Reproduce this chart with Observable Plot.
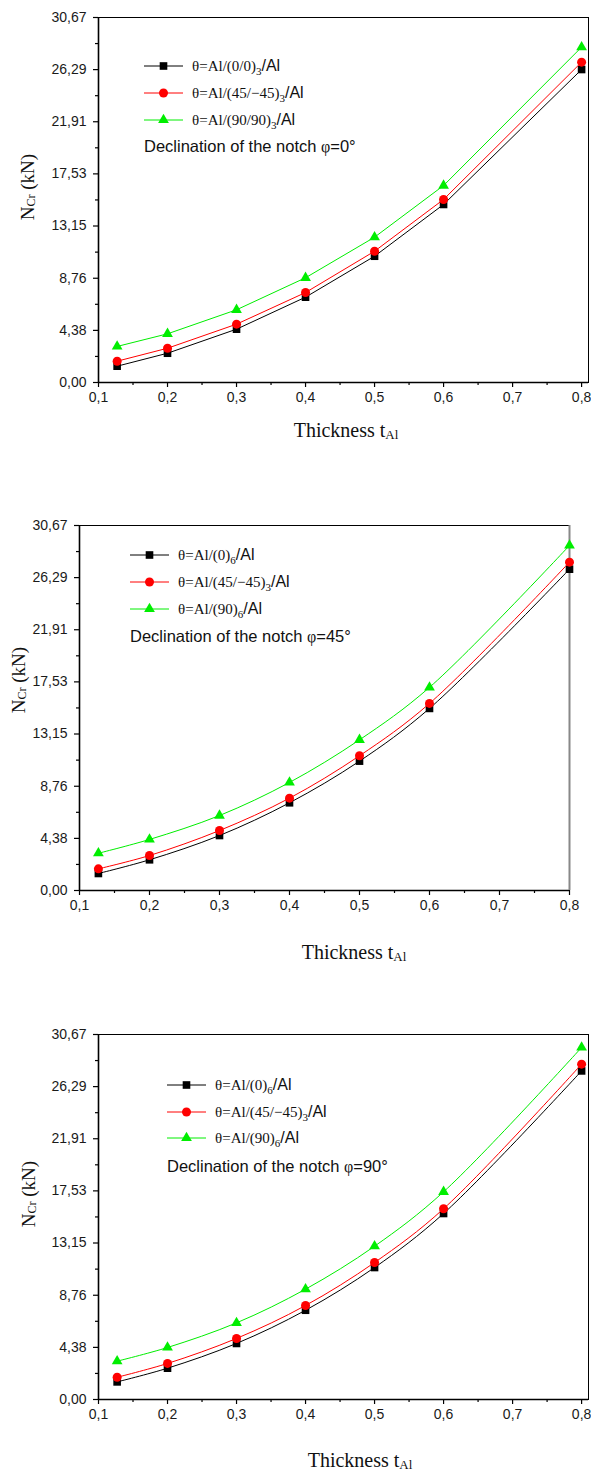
<!DOCTYPE html>
<html>
<head>
<meta charset="utf-8">
<script src="https://cdn.jsdelivr.net/npm/d3@7"></script>
<script src="https://cdn.jsdelivr.net/npm/@observablehq/plot@0.6"></script>
<style>
  body { margin: 0; background: #fff; }
  #wrap { position: relative; width: 591px; height: 1470px; overflow: hidden; background: #fff; }
  .plotbox { position: absolute; left: 0; }
  .ylab { position: absolute; font-family: "Liberation Serif", serif; font-size: 19px; white-space: nowrap;
          transform: translate(-50%, -50%) rotate(-90deg); color: #111; line-height: 1; }
  .ylab sub { font-size: 12px; vertical-align: -1px; }
  .xlab { position: absolute; font-family: "Liberation Serif", serif; font-size: 20px; white-space: nowrap;
          transform: translate(-50%, -50%); color: #111; line-height: 1; }
  .xlab span { font-size: 13px; vertical-align: -2px; }
  .legrow { position: absolute; white-space: nowrap; transform: translateY(-50%); display: flex; align-items: center; color: #111; }
  .legrow svg { display: block; margin-right: 9px; }
  .legrow .txt { display: inline-block; line-height: 1; }
  .serif { font-family: "Liberation Serif", serif; font-size: 15px; }
  .sans { font-family: "Liberation Sans", sans-serif; font-size: 16px; }
  .legrow sub { font-family: "Liberation Serif", serif; font-size: 11px; vertical-align: -4px; line-height: 0; }
  .decl { position: absolute; font-family: "Liberation Sans", sans-serif; font-size: 16.5px; white-space: nowrap;
          transform: translateY(-50%); color: #111; line-height: 1; }
  .decl .phi { font-family: "Liberation Serif", serif; font-size: 16px; }
</style>
</head>
<body>
<div id="wrap"></div>
<script>
// ---------------- data ----------------
const thickness = [0.127, 0.2, 0.3, 0.4, 0.5, 0.6, 0.8];

// panel 1: declination phi = 0°
const p1Black = [1.37, 2.46, 4.48, 7.17, 10.61, 14.96, 26.30];
const p1Red   = [1.79, 2.88, 4.90, 7.56, 11.03, 15.38, 26.92];
const p1Green = [3.03, 4.09, 6.11, 8.80, 12.21, 16.55, 28.18];

// panel 2: declination phi = 45°
const p2Black = [1.43, 2.58, 4.62, 7.37, 10.87, 15.30, 27.00];
const p2Red   = [1.82, 2.94, 5.04, 7.76, 11.32, 15.72, 27.59];
const p2Green = [3.13, 4.29, 6.30, 9.08, 12.66, 17.07, 28.99];

// panel 3: declination phi = 90°
const p3Black = [1.48, 2.63, 4.71, 7.50, 11.09, 15.63, 27.61];
const p3Red   = [1.87, 3.03, 5.13, 7.90, 11.51, 16.03, 28.18];
const p3Green = [3.22, 4.37, 6.44, 9.27, 12.88, 17.45, 29.58];

const yTicks = [0, 4.38, 8.76, 13.15, 17.53, 21.91, 26.29, 30.67];
const yTickLabels = ["0,00", "4,38", "8,76", "13,15", "17,53", "21,91", "26,29", "30,67"];
const xTicks = [0.1, 0.2, 0.3, 0.4, 0.5, 0.6, 0.7, 0.8];
const xTickLabels = ["0,1", "0,2", "0,3", "0,4", "0,5", "0,6", "0,7", "0,8"];

const legend1 = ["θ=Al/(0/0)|3", "θ=Al/(45/−45)|3", "θ=Al/(90/90)|3"];
const legend2 = ["θ=Al/(0)|6", "θ=Al/(45/−45)|3", "θ=Al/(90)|6"];
const legend3 = ["θ=Al/(0)|6", "θ=Al/(45/−45)|3", "θ=Al/(90)|6"];
const declinations = ["0°", "45°", "90°"];

// ---------------- styles ----------------
const seriesStyle = [
  {color: "#000000", symbol: "square", r: 4.3},
  {color: "#ff0000", symbol: "circle", r: 4.5},
  {color: "#00ee00", symbol: "triangle", r: 4.0}
];

const panels = [
  {values: [p1Black, p1Red, p1Green], legend: legend1, decl: declinations[0], curve: "linear",
   top: 17, left: 98, right: 588, xmax: 0.81, rightStroke: null,
   ylab: [27, 187], xlab: [346, 430], leg: [144, 66, 27], declPos: [144, 146]},
  {values: [p2Black, p2Red, p2Green], legend: legend2, decl: declinations[1], curve: "catmull-rom",
   top: 525, left: 79, right: 569, xmax: 0.8, rightStroke: "#888",
   ylab: [18, 680], xlab: [354, 952], leg: [130, 555, 27], declPos: [130, 636]},
  {values: [p3Black, p3Red, p3Green], legend: legend3, decl: declinations[2], curve: "catmull-rom",
   top: 1034, left: 98, right: 588, xmax: 0.81, rightStroke: null,
   ylab: [28, 1194], xlab: [360, 1460], leg: [167, 1085, 26.7], declPos: [167, 1166]}
];

const wrap = document.getElementById("wrap");
const yMinor = yTicks.slice(0, -1).map((d, i) => (d + yTicks[i + 1]) / 2);
const xMinor = xTicks.slice(0, -1).map((d, i) => (d + xTicks[i + 1]) / 2);
const yFmt = d => yTickLabels[yTicks.indexOf(d)];
const xFmt = d => xTickLabels[xTicks.indexOf(d)];

const mT = 10, mB = 30, innerH = 365;
const tickFont = {fontSize: 14, fill: "#1a1a1a"};

panels.forEach((p) => {
  const marks = [
    Plot.frame({stroke: "#000", strokeWidth: 1}),
    Plot.axisY(yTicks, {tickFormat: yFmt, tickSize: 5, tickPadding: 7, label: null, stroke: "#000", strokeWidth: 1.2, ...tickFont}),
    Plot.axisY(yMinor, {tickFormat: () => "", tickSize: 3, label: null, stroke: "#000", strokeWidth: 1.2}),
    Plot.axisX(xTicks, {tickFormat: xFmt, tickSize: 5, tickPadding: 5, label: null, stroke: "#000", strokeWidth: 1.2, ...tickFont}),
    Plot.axisX(xMinor, {tickFormat: () => "", tickSize: 3, label: null, stroke: "#000", strokeWidth: 1.2}),
    Plot.ruleX([0.1], {stroke: "#000", strokeWidth: 1.6}),
    Plot.ruleY([0], {stroke: "#000", strokeWidth: 1.6})
  ];
  if (p.rightStroke) marks.push(Plot.ruleX([p.xmax], {stroke: p.rightStroke, strokeWidth: 2}));
  p.values.forEach((vals, si) => {
    const st = seriesStyle[si];
    const rows = thickness.map((t, j) => ({x: t, y: vals[j]}));
    marks.push(Plot.line(rows, {x: "x", y: "y", stroke: st.color, strokeWidth: 1, curve: p.curve}));
    marks.push(Plot.dot(rows, {x: "x", y: "y", symbol: st.symbol, fill: st.color, stroke: "none", r: st.r}));
  });
  const chart = Plot.plot({
    width: 591, height: innerH + mT + mB,
    marginLeft: p.left, marginRight: 591 - p.right, marginTop: mT, marginBottom: mB,
    x: {domain: [0.1, p.xmax]},
    y: {domain: [0, 30.67]},
    style: {fontFamily: "'Liberation Sans', Arial, sans-serif", fontSize: "14px", color: "#1a1a1a", background: "#fff", overflow: "visible"},
    marks
  });
  const box = document.createElement("div");
  box.className = "plotbox";
  box.style.top = (p.top - mT) + "px";
  box.appendChild(chart);
  wrap.appendChild(box);

  // y label
  const yl = document.createElement("div");
  yl.className = "ylab";
  yl.style.left = p.ylab[0] + "px";
  yl.style.top = p.ylab[1] + "px";
  yl.innerHTML = 'N<sub>Cr</sub> (kN)';
  wrap.appendChild(yl);

  // x label
  const xl = document.createElement("div");
  xl.className = "xlab";
  xl.style.left = p.xlab[0] + "px";
  xl.style.top = p.xlab[1] + "px";
  xl.innerHTML = 'Thickness t<span>Al</span>';
  wrap.appendChild(xl);

  // legend
  p.legend.forEach((txt, si) => {
    const st = seriesStyle[si];
    const row = document.createElement("div");
    row.className = "legrow";
    row.style.left = p.leg[0] + "px";
    row.style.top = (p.leg[1] + si * p.leg[2]) + "px";
    const sym = {square: d3.symbolSquare, circle: d3.symbolCircle, triangle: d3.symbolTriangle}[st.symbol];
    const path = d3.symbol(sym, Math.PI * st.r * st.r)();
    const [main, sub] = txt.split("|");
    row.innerHTML =
      `<svg width="39" height="14"><line x1="0" x2="39" y1="7" y2="7" stroke="${st.color}" stroke-width="1"/>` +
      `<path d="${path}" transform="translate(19.5,7)" fill="${st.color}"/></svg>` +
      `<span class="txt"><span class="serif">${main}</span><sub>${sub}</sub><span class="sans">/Al</span></span>`;
    wrap.appendChild(row);
  });
  const dl = document.createElement("div");
  dl.className = "decl";
  dl.style.left = p.declPos[0] + "px";
  dl.style.top = p.declPos[1] + "px";
  dl.innerHTML = `Declination of the notch <span class="phi">φ</span>=${p.decl}`;
  wrap.appendChild(dl);
});
</script>
</body>
</html>
